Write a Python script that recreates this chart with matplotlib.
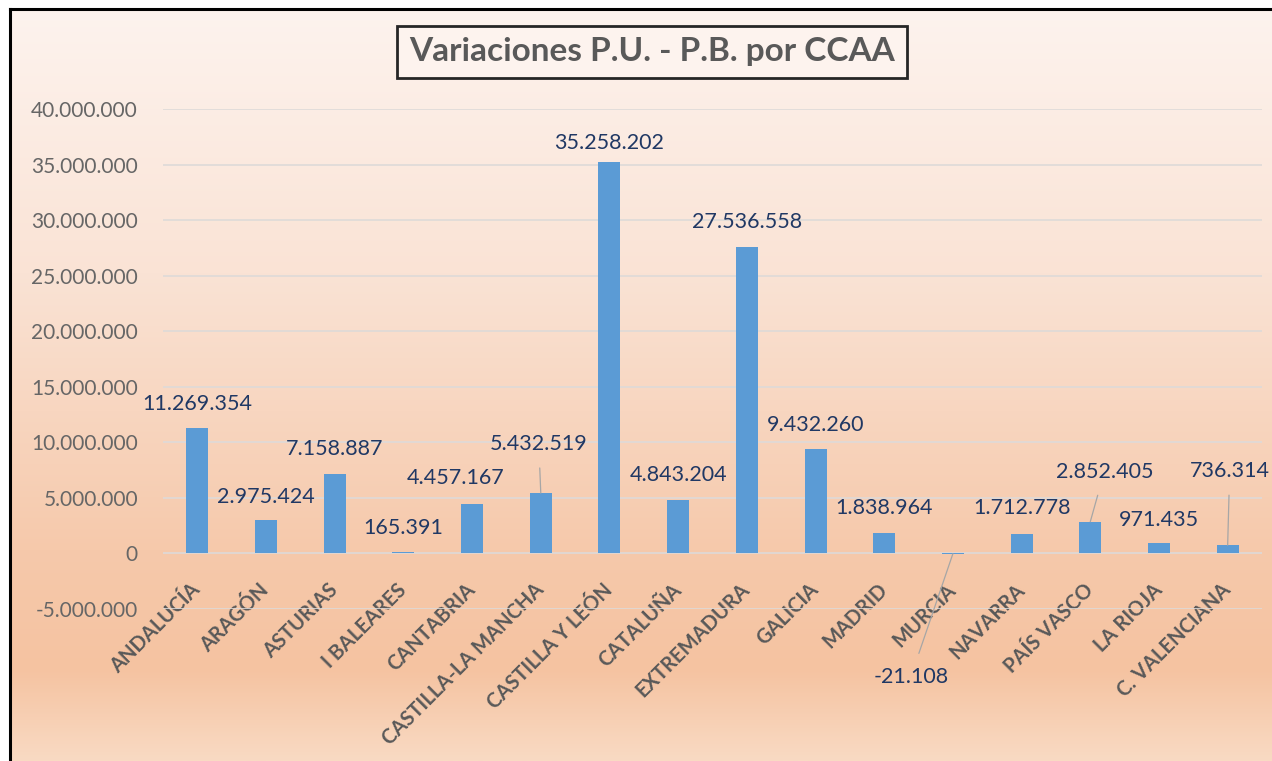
import numpy as np
import matplotlib.pyplot as plt
from matplotlib.colors import LinearSegmentedColormap

# datos
regiones = ["ANDALUCÍA", "ARAGÓN", "ASTURIAS", "I BALEARES", "CANTABRIA",
            "CASTILLA-LA MANCHA", "CASTILLA Y LEÓN", "CATALUÑA", "EXTREMADURA",
            "GALICIA", "MADRID", "MURCIA", "NAVARRA", "PAÍS VASCO", "LA RIOJA",
            "C. VALENCIANA"]
variaciones = [11269354, 2975424, 7158887, 165391, 4457167, 5432519,
               35258202, 4843204, 27536558, 9432260, 1838964, -21108,
               1712778, 2852405, 971435, 736314]
y_ticks = list(range(-5000000, 40000001, 5000000))

# desplazamiento de etiquetas (pixels) y si llevan linea guia
lab_dx = [0, 0, 0, 0, -16, -2, 0, 0, 0, 0, 0, -42, 0, 14, 0, 2]
lab_dy = [24, 23, 25, 24, 26, 49, 19, 25, 25, 24, 25, -123, 26, 50, 23, 74]
guia = [False, False, False, False, False, True, False, False, False, False,
        False, True, False, True, False, True]


def fmt(v):
    s = f"{abs(v):,}".replace(",", ".")
    return "-" + s if v < 0 else s


W, H = 1272, 761
fig = plt.figure(figsize=(W / 100, H / 100), dpi=100)
fig.patch.set_facecolor("white")

# fondo degradado
bg = fig.add_axes([10 / W, 0, 1 - 10 / W, 1 - 9 / H], zorder=-5)
cmap = LinearSegmentedColormap.from_list(
    "fondo", [(0.0, "#fdf3ee"), (0.35, "#fae3d5"), (0.72, "#f6c9ab"),
              (0.88, "#f5c3a1"), (1.0, "#f9dac3")])
grad = np.linspace(0, 1, 256).reshape(-1, 1)
bg.imshow(grad, aspect="auto", cmap=cmap, extent=[0, 1, 0, 1], origin="upper")
bg.set_xticks([])
bg.set_yticks([])
for s in ["right", "bottom"]:
    bg.spines[s].set_visible(False)
for s in ["left", "top"]:
    bg.spines[s].set_linewidth(2.2)
    bg.spines[s].set_color("black")

ax = fig.add_axes([163 / W, 1 - 609 / H, (1262 - 163) / W, (609 - 109) / H])
ax.patch.set_alpha(0)

x = np.arange(len(regiones))
bars = ax.bar(x, variaciones, width=0.32, color="#5b9bd5", zorder=3)

ax.set_xlim(-0.5, len(regiones) - 0.5)
ax.set_ylim(-5000000, 40000000)
ax.set_yticks(y_ticks)
ax.set_yticklabels([fmt(v) for v in y_ticks], fontname="Lato", fontsize=15,
                   color="#666666")
ax.grid(axis="y", color="#dedad8", linewidth=1.2, zorder=0)
for s in ["top", "right", "left"]:
    ax.spines[s].set_visible(False)
ax.spines["bottom"].set_position(("data", 0))
ax.spines["bottom"].set_visible(False)
ax.tick_params(axis="both", length=0)
ax.tick_params(axis="y", pad=18)
ax.tick_params(axis="x", pad=24)
ax.set_xticks(x)
ax.set_xticklabels(regiones, rotation=45, ha="right", va="center",
                   rotation_mode="anchor", fontname="Lato", fontweight="bold",
                   fontsize=14.5, color="#595959")

for i, v in enumerate(variaciones):
    props = None
    if guia[i]:
        props = dict(arrowstyle="-", color="#a6a6a6", lw=0.9,
                     shrinkA=8, shrinkB=0)
    ax.annotate(fmt(v), xy=(x[i], v), xytext=(lab_dx[i], lab_dy[i]),
                textcoords="offset pixels", ha="center", va="center",
                fontname="Lato", fontsize=15.5, color="#203864",
                arrowprops=props, zorder=4)

fig.text(652 / W, 1 - 52 / H, "Variaciones P.U. - P.B. por CCAA",
         ha="center", va="center", fontname="Lato", fontweight="bold",
         fontsize=24, color="#595959",
         bbox=dict(boxstyle="square,pad=0.35", facecolor="#fdf3ee",
                   edgecolor="#262626", linewidth=2))

fig.savefig("out.png", dpi=100)
